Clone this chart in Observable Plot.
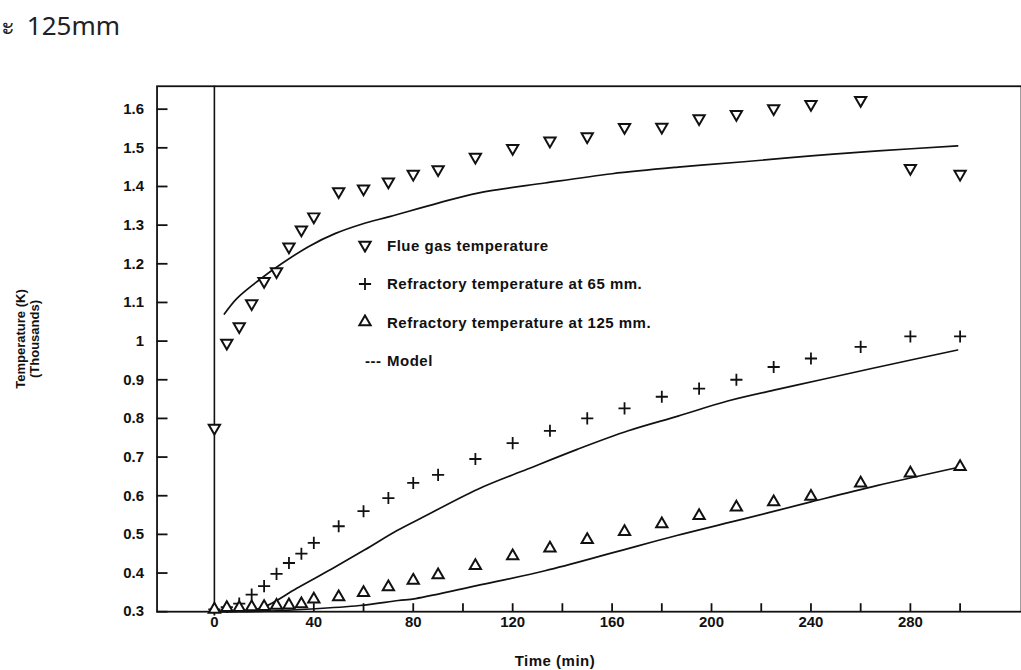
<!DOCTYPE html>
<html><head><meta charset="utf-8">
<script src="https://cdn.jsdelivr.net/npm/d3@7"></script>
<script src="https://cdn.jsdelivr.net/npm/@observablehq/plot@0.6"></script>
<style>
html,body{margin:0;padding:0;background:#fff;overflow:hidden;}
#wrap{position:relative;width:1021px;height:670px;overflow:hidden;font-family:"Liberation Sans",Arial,sans-serif;color:#111;}
#wrap svg.chart{position:absolute;left:0;top:0;}
#note{position:absolute;left:1px;top:7px;font-family:"Noto Sans",sans-serif;font-size:26px;color:#222;white-space:nowrap;line-height:36px;word-spacing:5px;}
#ylab{position:absolute;left:28px;top:339px;transform:translate(-50%,-50%) rotate(-90deg);text-align:center;font-size:13px;font-weight:bold;line-height:14px;white-space:nowrap;}
#xlab{position:absolute;left:555px;top:652px;transform:translateX(-50%);font-size:15px;font-weight:bold;letter-spacing:0.5px;white-space:nowrap;}
.leg{position:absolute;left:357px;height:20px;display:flex;align-items:center;font-size:15px;font-weight:bold;letter-spacing:0.5px;white-space:nowrap;}
.leg svg{width:16px;height:16px;margin-right:14px;flex:none;}
.leg .dash{width:22px;margin-left:8px;flex:none;}
</style>
</head><body>
<div id="wrap">
  <div id="note">ะ 125mm</div>
  <div id="ylab">Temperature (K)<br>(Thousands)</div>
  <div id="xlab">Time (min)</div>
</div>
<script>
// ---- data ----
const sampleTime = [0,5,10,15,20,25,30,35,40,50,60,70,80,90,105,120,135,150,165,180,195,210,225,240,260,280,300];
const flueTemp  = [0.775,0.995,1.038,1.097,1.155,1.180,1.244,1.288,1.322,1.387,1.394,1.412,1.432,1.444,1.476,1.499,1.518,1.529,1.553,1.554,1.576,1.587,1.602,1.613,1.623,1.447,1.432];
const r65Temp   = [0.306,0.312,0.321,0.344,0.366,0.398,0.426,0.450,0.478,0.521,0.560,0.594,0.633,0.654,0.695,0.736,0.768,0.800,0.826,0.856,0.877,0.900,0.933,0.955,0.985,1.012,1.012];
const r125Temp  = [0.306,0.310,0.310,0.312,0.313,0.316,0.317,0.320,0.332,0.338,0.349,0.364,0.381,0.395,0.419,0.444,0.464,0.486,0.507,0.527,0.548,0.570,0.584,0.598,0.632,0.658,0.675];

const modelFlueTime = [4,9,18,27,38,48.5,59.5,70.5,90,106,133,160,186.5,213,240,267,299];
const modelFlueTemp = [1.07,1.11,1.158,1.20,1.245,1.278,1.303,1.322,1.357,1.383,1.409,1.433,1.45,1.464,1.479,1.492,1.505];
const model65Time = [0,8,18,24,33,47,60.5,73.5,84,106,126,146,166.5,186.5,206.5,226.5,244,270,299];
const model65Temp = [0.300,0.301,0.308,0.325,0.360,0.410,0.460,0.510,0.545,0.617,0.669,0.720,0.768,0.806,0.845,0.875,0.900,0.937,0.977];
const model125Time = [0,18,39,58.5,74,81,106,133,160,186,213,240,266.5,299];
const model125Temp = [0.300,0.301,0.307,0.316,0.329,0.334,0.368,0.406,0.452,0.497,0.540,0.584,0.626,0.673];

const xTickValues = [0,20,40,60,80,100,120,140,160,180,200,220,240,260,280,300];
const xTickLabels = [0,40,80,120,160,200,240,280];
const yTickValues = [0.3,0.4,0.5,0.6,0.7,0.8,0.9,1.0,1.1,1.2,1.3,1.4,1.5,1.6];
const legendLabels = ["Flue gas temperature","Refractory temperature at 65 mm.","Refractory temperature at 125 mm.","Model"];
const legendSymbols = ["triangleDown","plus","triangle","dash"];

// ---- build tables ----
const flue = sampleTime.map((t,i)=>({t, v: flueTemp[i]}));
const r65 = sampleTime.map((t,i)=>({t, v: r65Temp[i]}));
const r125 = sampleTime.map((t,i)=>({t, v: r125Temp[i]}));
const model = [
  ...modelFlueTime.map((t,i)=>({t, v: modelFlueTemp[i], s:"flue"})),
  ...model65Time.map((t,i)=>({t, v: model65Temp[i], s:"65"})),
  ...model125Time.map((t,i)=>({t, v: model125Temp[i], s:"125"}))
];

const ink = "#111";
const plusR = 4, triR = 4.2;
const W = 1024, H = 670, mL = 157, mR = 0, mT = 86, mB = 57;
const plotW = W - mL - mR, plotH = H - mT - mB;
const xDomain = [-23.07, 324.7], yDomain = [0.3, 1.6593];
// inward tick lengths (px) expressed in data units of each scale
const yTickLen = 11 * (xDomain[1] - xDomain[0]) / plotW;
const xTickLen = 8 * (yDomain[1] - yDomain[0]) / plotH;

const chart = Plot.plot({
  width: W, height: H,
  marginLeft: mL, marginRight: mR, marginTop: mT, marginBottom: mB,
  style: {fontFamily: "'Liberation Sans', Arial, sans-serif", fontSize: "15px", fontWeight: "bold", color: ink, background: "transparent", overflow: "visible"},
  x: {domain: xDomain},
  y: {domain: yDomain},
  marks: [
    // inward tick marks
    Plot.ruleY(yTickValues, {y: d => d, x1: xDomain[0], x2: xDomain[0] + yTickLen, stroke: ink, strokeWidth: 1.8}),
    Plot.ruleX(xTickValues, {x: d => d, y1: yDomain[0], y2: yDomain[0] + xTickLen, stroke: ink, strokeWidth: 1.8}),
    // tick labels
    Plot.axisY(yTickValues, {tickSize: 0, tickPadding: 13, tickFormat: d => String(+d.toFixed(1)), label: null, fill: ink, letterSpacing: "0.6px"}),
    Plot.axisX(xTickLabels, {tickSize: 0, tickPadding: 5, tickFormat: d => String(d), label: null, fill: ink, letterSpacing: "0.6px"}),
    Plot.frame({stroke: ink, strokeWidth: 1.8}),
    Plot.ruleX([0], {stroke: ink, strokeWidth: 1.6}),
    Plot.line(model, {x: "t", y: "v", z: "s", curve: "catmull-rom", stroke: ink, strokeWidth: 1.7}),
    Plot.dot(flue, {x: "t", y: "v", symbol: "triangle", rotate: 180, r: triR, fill: "white", stroke: ink, strokeWidth: 2}),
    Plot.dot(r65, {x: "t", y: "v", symbol: "plus", r: plusR, stroke: ink, strokeWidth: 1.8}),
    Plot.dot(r125, {x: "t", y: "v", symbol: "triangle", r: triR, fill: "white", stroke: ink, strokeWidth: 2})
  ]
});
chart.classList.add("chart");
const wrap = document.getElementById("wrap");
wrap.insertBefore(chart, wrap.firstChild);

// ---- legend (same symbols as the marks) ----
const legendTop = 245, legendStep = 38.5;
legendLabels.forEach((label, i) => {
  const row = document.createElement("div");
  row.className = "leg";
  row.style.top = (legendTop + i * legendStep - 10) + "px";
  const kind = legendSymbols[i];
  if (kind === "dash") {
    const d = document.createElement("span");
    d.className = "dash";
    d.textContent = "---";
    row.appendChild(d);
  } else {
    const svg = d3.create("svg").attr("viewBox", "-8 -8 16 16");
    const g = svg.append("path").attr("stroke", ink);
    if (kind === "plus") {
      g.attr("d", d3.symbol(d3.symbolPlus, Math.PI * plusR * plusR)()).attr("fill", "none").attr("stroke-width", 1.8);
    } else {
      g.attr("d", d3.symbol(d3.symbolTriangle, Math.PI * triR * triR)()).attr("fill", "white").attr("stroke-width", 2);
      if (kind === "triangleDown") g.attr("transform", "rotate(180)");
    }
    row.appendChild(svg.node());
  }
  const s = document.createElement("span");
  s.textContent = label;
  row.appendChild(s);
  wrap.appendChild(row);
});
</script>
</body></html>
